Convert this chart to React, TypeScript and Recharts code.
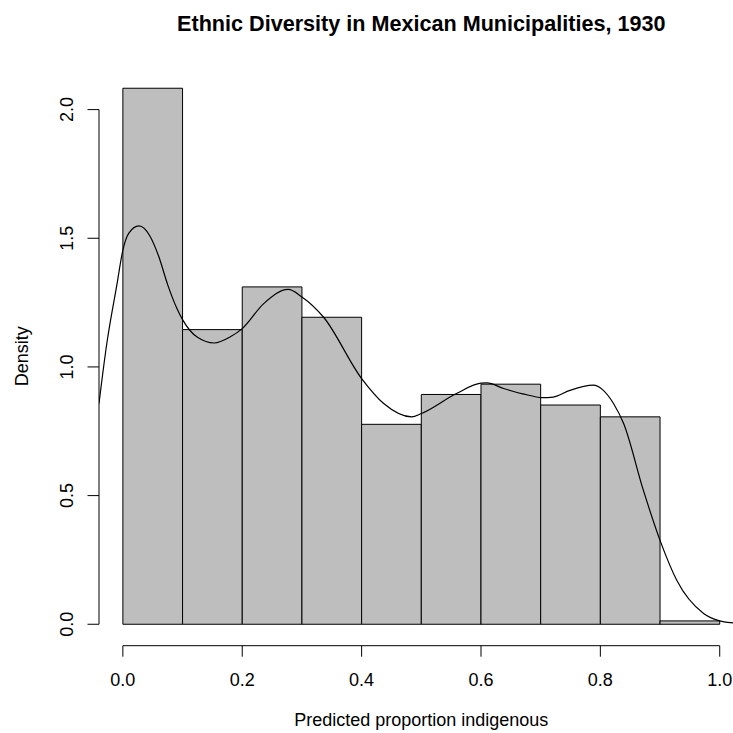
import { ComposedChart, Line, ReferenceArea, ReferenceLine, XAxis, YAxis } from "recharts";

const binStarts = [0, 0.1, 0.2, 0.3, 0.4, 0.5, 0.6, 0.7, 0.8, 0.9];
const binDensity = [2.083, 1.145, 1.311, 1.193, 0.777, 0.893, 0.933, 0.852, 0.806, 0.013];
const binWidth = 0.1;

const kdeX = [
  -0.04, -0.027, -0.01, 0, 0.01, 0.027, 0.045, 0.06, 0.075, 0.09, 0.1, 0.125, 0.153, 0.18, 0.2, 0.236, 0.277, 0.3,
  0.336, 0.4, 0.437, 0.484, 0.5, 0.559, 0.6, 0.61, 0.638, 0.68, 0.702, 0.721, 0.749, 0.788, 0.805, 0.822, 0.839,
  0.872, 0.9, 0.928, 0.973, 1.0, 1.023, 1.04,
];
const kdeY = [
  0.858, 1.09, 1.32, 1.454, 1.52, 1.548, 1.51, 1.43, 1.32, 1.23, 1.184, 1.115, 1.093, 1.117, 1.149, 1.246, 1.301, 1.272,
  1.194, 0.955, 0.858, 0.806, 0.819, 0.897, 0.937, 0.938, 0.916, 0.89, 0.881, 0.883, 0.909, 0.929, 0.909, 0.858, 0.78,
  0.521, 0.326, 0.171, 0.042, 0.013, 0.005, 0.002,
];

const xTicks = [0, 0.2, 0.4, 0.6, 0.8, 1.0];
const yTicks = [0, 0.5, 1.0, 1.5, 2.0];

const title = "Ethnic Diversity in Mexican Municipalities, 1930";
const xLabel = "Predicted proportion indigenous";
const yLabel = "Density";

const font = "'Liberation Sans', Arial, Helvetica, sans-serif";
const rows = kdeX.map((x, i) => ({ x, y: kdeY[i] }));

function XTick({ x, payload }: any) {
  return (
    <text x={x} y={686} textAnchor="middle" fontSize={18} fontFamily={font} fill="#000">
      {payload.value.toFixed(1)}
    </text>
  );
}

function YTick({ y, payload }: any) {
  return (
    <text
      x={0}
      y={0}
      transform={`translate(72.5, ${y}) rotate(-90)`}
      textAnchor="middle"
      fontSize={18}
      fontFamily={font}
      fill="#000"
    >
      {payload.value.toFixed(1)}
    </text>
  );
}

export default function App() {
  return (
    <div style={{ position: "absolute", left: 0, top: 0, width: 733, height: 733, background: "#fff" }}>
      <ComposedChart width={733} height={733} data={rows} margin={{ top: 66.7, right: -10.6, bottom: 27.3, left: 0 }}>
        <XAxis
          dataKey="x"
          type="number"
          domain={[-0.04, 1.04]}
          allowDataOverflow
          ticks={xTicks}
          axisLine={false}
          tickSize={11}
          tickLine={{ stroke: "#000", strokeWidth: 1 }}
          tick={<XTick />}
          height={60}
        />
        <YAxis
          type="number"
          domain={[-0.0833, 2.1667]}
          allowDataOverflow
          ticks={yTicks}
          axisLine={false}
          tickSize={11.5}
          tickLine={{ stroke: "#000", strokeWidth: 1 }}
          tick={<YTick />}
          width={99}
        />
        {binStarts.map((b, i) => (
          <ReferenceArea
            key={b}
            x1={b}
            x2={b + binWidth}
            y1={0}
            y2={binDensity[i]}
            fill="#bebebe"
            fillOpacity={1}
            stroke="#000"
            strokeWidth={1}
            strokeOpacity={1}
            ifOverflow="visible"
          />
        ))}
        <ReferenceLine segment={[{ x: -0.04, y: 0 }, { x: -0.04, y: 2 }]} stroke="#000" strokeWidth={1} ifOverflow="visible" />
        <ReferenceLine segment={[{ x: 0, y: -0.0833 }, { x: 1, y: -0.0833 }]} stroke="#000" strokeWidth={1} ifOverflow="visible" />
        <Line type="monotone" dataKey="y" stroke="#000" strokeWidth={1.2} dot={false} activeDot={false} isAnimationActive={false} />
      </ComposedChart>
      <svg width={733} height={733} style={{ position: "absolute", left: 0, top: 0, pointerEvents: "none" }}>
        <text x={421.3} y={31} textAnchor="middle" fontSize={21.6} fontWeight="bold" fontFamily={font} fill="#000">
          {title}
        </text>
        <text x={421.3} y={726} textAnchor="middle" fontSize={18} fontFamily={font} fill="#000">
          {xLabel}
        </text>
        <text x={0} y={0} transform="translate(27.5, 356.2) rotate(-90)" textAnchor="middle" fontSize={18} fontFamily={font} fill="#000">
          {yLabel}
        </text>
      </svg>
    </div>
  );
}
